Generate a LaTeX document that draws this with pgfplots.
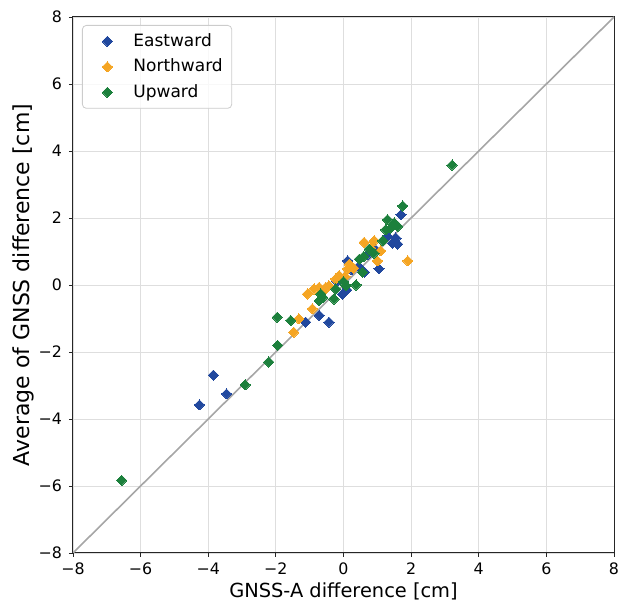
\documentclass[border=0pt]{standalone}
\usepackage{pgfplots}
\pgfplotsset{compat=1.18}
\usetikzlibrary{calc}
\usepackage{fontspec}
\setmainfont{DejaVu Sans}
\definecolor{cblue}{RGB}{33,72,158}
\definecolor{corange}{RGB}{245,165,35}
\definecolor{cgreen}{RGB}{28,128,60}
\definecolor{gridgray}{RGB}{222,222,222}
\begin{document}
\begin{tikzpicture}
\begin{axis}[
  scale only axis, width=270.5pt, height=268pt,
  xmin=-8, xmax=8, ymin=-8, ymax=8,
  xtick={-8,-6,...,8}, ytick={-8,-6,...,8},
  xticklabels={−8,−6,−4,−2,0,2,4,6,8},
  yticklabels={−8,−6,−4,−2,0,2,4,6,8},
  tick label style={font=\fontsize{7.9}{9}\selectfont},
  xticklabel style={yshift=0.5pt},
  xlabel={GNSS-A difference [cm]},
  ylabel={Average of GNSS difference [cm]},
  every axis x label/.style={at={(rel axis cs:0.5,0)}, anchor=base, yshift=-22.5pt, font=\fontsize{9.7}{11}\selectfont},
  every axis y label/.style={at={(rel axis cs:0,0.5)}, anchor=base, rotate=90, yshift=21.5pt, font=\fontsize{11}{13}\selectfont},
  grid=major, major grid style={gridgray, line width=0.45pt},
  axis line style={line width=0.5pt, black!85},
  tick pos=left, tick align=outside, major tick length=2pt,
  tick style={black!85, line width=0.45pt},
  legend style={at={(rel axis cs:0,1)}, anchor=north west, xshift=4.5pt, yshift=-4pt,
    draw=gray!40, rounded corners=2pt, fill=white, fill opacity=0.8, text opacity=1,
    font=\fontsize{8.5}{10}\selectfont, row sep=0.8pt, inner xsep=2.5pt, inner ysep=2pt},
  legend cell align=left,
  legend image code/.code={\path[draw=none, fill=none] (0pt,-2pt) rectangle (21pt,2pt); \path[#1, fill opacity=1, draw opacity=1] plot[only marks] coordinates {(10pt,0pt)};},
  every axis plot/.append style={only marks, mark=square*, mark size=1.8pt},
]
\addplot[gray!70, line width=0.8pt, no marks, forget plot, sharp plot] coordinates {(-8,-8) (8,8)};
\addplot[color=cblue, mark options={fill=cblue, draw=cblue, rotate=45, line width=0pt}] coordinates {
(1.70,2.10) (1.55,1.40) (1.60,1.22) (1.45,1.25) (1.30,1.45) (1.05,0.48) (0.62,0.38)
(0.95,1.05) (0.70,0.90) (0.12,0.72) (0.25,0.45) (-0.03,-0.27) (0.10,-0.15)
(-0.72,-0.91) (-0.43,-1.11) (-1.12,-1.11) (-3.46,-3.25) (-3.85,-2.69) (-4.26,-3.58)
(0.45,0.55) (-0.20,0.10)
};
\addlegendentry{Eastward}
\addplot[color=corange, mark options={fill=corange, draw=corange, rotate=45, line width=0pt}] coordinates {
(1.90,0.72) (0.61,1.27) (0.91,1.32) (1.10,1.02) (1.00,0.72) (0.80,1.10) (0.17,0.62)
(0.12,0.48) (-0.13,0.28) (-0.23,0.18) (-1.07,-0.27) (-0.87,-0.12) (-0.72,-0.07)
(-0.52,-0.07) (-0.43,-0.02) (-0.92,-0.71) (-1.32,-1.01) (-1.47,-1.41) (0.30,0.50)
(0.05,0.25) (-0.60,-0.20)
};
\addlegendentry{Northward}
\addplot[color=cgreen, mark options={fill=cgreen, draw=cgreen, rotate=45, line width=0pt}] coordinates {
(1.75,2.36) (1.30,1.95) (1.50,1.85) (1.40,1.70) (1.25,1.65) (1.60,1.75) (1.16,1.32)
(0.76,1.07) (0.90,0.95) (0.47,0.77) (0.56,0.38) (0.37,0.00) (0.07,-0.02) (-0.23,-0.12)
(-0.28,-0.42) (-0.67,-0.27) (-0.62,-0.37) (-0.72,-0.47) (-1.56,-1.06) (-1.96,-0.96)
(-1.95,-1.80) (-2.21,-2.30) (-2.91,-2.98) (-6.56,-5.83) (3.21,3.58) (0.60,0.85) (0.00,0.10)
};
\addlegendentry{Upward}
\end{axis}
\pgfresetboundingbox
\path ($(current axis.south west)+(-36.5pt,-26.5pt)$) rectangle ($(current axis.north east)+(3pt,8.5pt)$);
\end{tikzpicture}
\end{document}
